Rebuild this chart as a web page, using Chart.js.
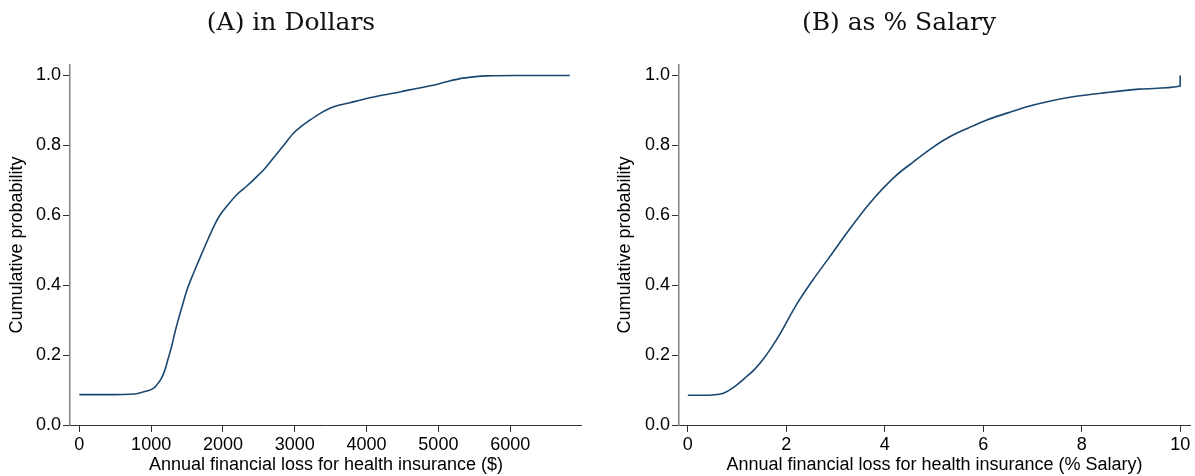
<!DOCTYPE html>
<html>
<head>
<meta charset="utf-8">
<script src="https://cdn.jsdelivr.net/npm/chart.js@4.4.1/dist/chart.umd.min.js"></script>
<style>
  html, body { margin: 0; padding: 0; background: #fff; width: 1195px; height: 476px; overflow: hidden; }
  canvas { position: absolute; top: 0; }
  #panelA { left: 0; }
  #panelB { left: 608px; }
</style>
</head>
<body>
<canvas id="panelA" width="582" height="476"></canvas>
<canvas id="panelB" width="587" height="476"></canvas>
<script>
// Panel A: annual financial loss in dollars vs cumulative probability
const lossDollars = [0, 300, 500, 703, 797, 936, 1030, 1075, 1145, 1191, 1237, 1284, 1330, 1376, 1446, 1493, 1563, 1632, 1702, 1795, 1887, 1957, 2050, 2189, 2329, 2468, 2584, 2699, 2838, 2978, 3095, 3210, 3350, 3489, 3535, 3767, 4000, 4231, 4464, 4696, 4928, 5114, 5300, 5485, 5671, 6089, 6831];
const cdfDollars  = [0.087, 0.087, 0.087, 0.088, 0.0895, 0.097, 0.105, 0.114, 0.134, 0.157, 0.19, 0.224, 0.264, 0.30, 0.350, 0.383, 0.421, 0.455, 0.489, 0.533, 0.574, 0.600, 0.625, 0.658, 0.683, 0.71, 0.734, 0.763, 0.798, 0.834, 0.855, 0.872, 0.891, 0.906, 0.910, 0.922, 0.934, 0.944, 0.953, 0.963, 0.972, 0.982, 0.991, 0.996, 0.999, 1.0, 1.0];

// Panel B: annual financial loss as % of salary vs cumulative probability
const lossPctSalary = [0, 0.3, 0.5, 0.72, 0.95, 1.19, 1.36, 1.53, 1.7, 1.87, 2.2, 2.54, 2.88, 3.22, 3.69, 4.2, 4.6, 4.94, 5.31, 5.7, 6.06, 6.5, 6.87, 7.3, 7.82, 8.49, 9.17, 9.98, 10, 10];
const cdfPctSalary  = [0.085, 0.085, 0.086, 0.091, 0.11, 0.138, 0.160, 0.188, 0.222, 0.260, 0.343, 0.415, 0.481, 0.548, 0.634, 0.71, 0.755, 0.791, 0.824, 0.85, 0.872, 0.893, 0.91, 0.925, 0.939, 0.951, 0.961, 0.969, 0.97, 1.0];

const ticksDollars = [0, 1000, 2000, 3000, 4000, 5000, 6000];
const ticksPct = [0, 2, 4, 6, 8, 10];
const ticksProb = [0, 0.2, 0.4, 0.6, 0.8, 1.0];

const titleA = '(A) in Dollars';
const titleB = '(B) as % Salary';
const xLabelA = 'Annual financial loss for health insurance ($)';
const xLabelB = 'Annual financial loss for health insurance (% Salary)';
const yLabel = 'Cumulative probability';

Chart.defaults.font.family = '"Liberation Sans", Arial, Helvetica, sans-serif';
Chart.defaults.color = '#000';
Chart.defaults.animation = false;

const lineColor = '#1a476f';

function makePanel(id, cfg) {
  const pts = cfg.xs.map((x, i) => ({ x: x, y: cfg.ys[i] }));
  return new Chart(document.getElementById(id), {
    type: 'line',
    data: {
      datasets: [{
        data: pts,
        borderColor: lineColor,
        borderWidth: 1.6,
        pointRadius: 0,
        fill: false,
        cubicInterpolationMode: 'monotone'
      }]
    },
    options: {
      responsive: false,
      devicePixelRatio: 1,
      events: [],
      layout: { padding: { left: 0, right: cfg.padRight, top: 0, bottom: 0 } },
      plugins: {
        legend: { display: false },
        tooltip: { enabled: false },
        title: {
          display: true,
          text: cfg.title,
          color: '#111',
          font: { family: '"DejaVu Serif", "Liberation Serif", serif', size: 25, weight: 'normal', lineHeight: 1.2 },
          padding: { top: 8, bottom: 27 }
        }
      },
      scales: {
        x: {
          type: 'linear',
          min: cfg.xMin,
          max: cfg.xMax,
          afterBuildTicks: s => { s.ticks = cfg.xTicks.map(v => ({ value: v })); },
          afterFit: s => { s.height = 51; },
          border: { display: true, color: '#333', width: 1 },
          grid: { display: true, drawOnChartArea: false, drawTicks: true, tickLength: 7, color: '#333' },
          ticks: { font: { size: 18 }, color: '#000', padding: 2, maxRotation: 0, autoSkip: false,
                   callback: v => String(v) },
          title: { display: true, text: cfg.xLabel, color: '#000', font: { size: 18, lineHeight: 1.2 },
                   padding: { top: 0, bottom: 0 } }
        },
        y: {
          type: 'linear',
          min: 0,
          max: 1.03,
          afterBuildTicks: s => { s.ticks = ticksProb.map(v => ({ value: v })); },
          afterFit: s => { s.width = cfg.yWidth; },
          border: { display: true, color: '#808080', width: 1.5 },
          grid: { display: true, drawOnChartArea: false, drawTicks: true, tickLength: 7, color: '#333' },
          ticks: { font: { size: 18 }, color: '#000', padding: 2, callback: v => v.toFixed(1) },
          title: { display: true, text: yLabel, color: '#000', font: { size: 18, lineHeight: 1.2 },
                   padding: { top: 6, bottom: 0 } }
        }
      }
    }
  });
}

makePanel('panelA', {
  title: titleA, xLabel: xLabelA, xs: lossDollars, ys: cdfDollars,
  xTicks: ticksDollars, xMin: -130, xMax: 7000, yWidth: 70, padRight: 0
});

makePanel('panelB', {
  title: titleB, xLabel: xLabelB, xs: lossPctSalary, ys: cdfPctSalary,
  xTicks: ticksPct, xMin: -0.18, xMax: 10.2, yWidth: 71, padRight: 5
});
</script>
</body>
</html>
